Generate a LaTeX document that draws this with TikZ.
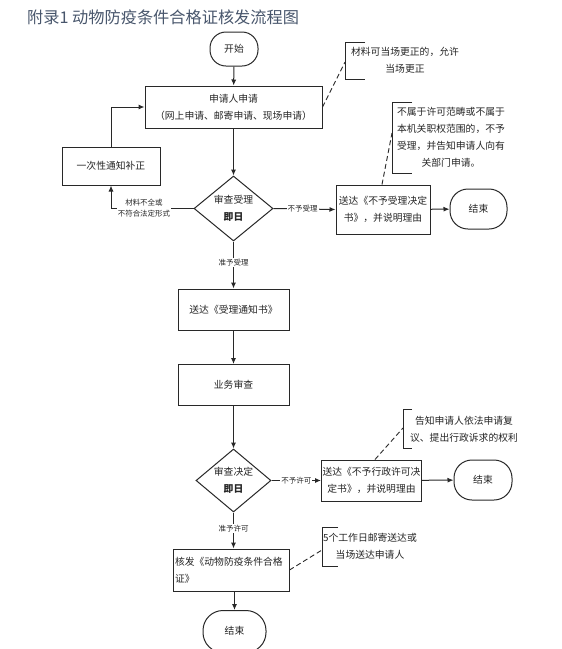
\documentclass[tikz,border=0pt]{standalone}
\usepackage{fontspec}
\setmainfont{Noto Sans CJK SC}
\usetikzlibrary{arrows.meta,shapes.geometric}
\definecolor{titlecol}{RGB}{72,86,108}
\definecolor{linecol}{RGB}{40,40,40}
\begin{document}
\begin{tikzpicture}[x=1pt,y=-1pt,
  txt/.style={font=\fontsize{9.8}{17}\selectfont, align=center, text=black!85},
  boxnode/.style={txt, draw=linecol, line width=1pt, inner sep=1pt},
  term/.style={boxnode, rounded corners=16pt},
  decide/.style={draw=linecol, line width=1pt, diamond, inner sep=0pt},
  arr/.style={draw=linecol, line width=1pt, -{Latex[length=6pt,width=5pt]}},
  conn/.style={draw=linecol, line width=1pt},
  lbl/.style={font=\fontsize{7.5}{11}\selectfont, fill=white, inner sep=1pt, align=center, text=black!85},
  dashlink/.style={draw=linecol, line width=0.9pt, dash pattern=on 5pt off 3pt},
  brk/.style={draw=linecol, line width=1pt},
  notetext/.style={txt}
]
\useasboundingbox (0,0) rectangle (562,649);
\fill[white] (0,0) rectangle (562,649);

% title
\node[anchor=west, font=\fontsize{16.2}{19}\selectfont, text=titlecol, inner sep=0pt] (title) at (27,17) {附录1 动物防疫条件合格证核发流程图};

% main nodes
\node[term, minimum width=48, minimum height=34] (start) at (234,49) {开始};
\node[boxnode, minimum width=177, minimum height=42] (apply) at (233.5,107) {申请人申请\\（网上申请、邮寄申请、现场申请）};
\node[boxnode, minimum width=98, minimum height=38] (fix) at (111,166) {一次性通知补正};
\node[decide, minimum width=79, minimum height=65, aspect=1.2,
      label={[txt]center:审查受理\\{\bfseries 即日}}] (d1) at (233.5,208.5) {};
\node[boxnode, minimum width=94, minimum height=49] (reject1) at (383,209.5) {送达《不予受理决定\\书》，并说明理由};
\node[term, minimum width=57, minimum height=40, rounded corners=18pt] (end1) at (478.5,209) {结束};

\node[boxnode, minimum width=111, minimum height=41] (notice) at (233.5,309.5) {送达《受理通知书》};
\node[boxnode, minimum width=111, minimum height=41] (review) at (233.5,385) {业务审查};
\node[decide, minimum width=75, minimum height=63, aspect=1.2,
      label={[txt]center:审查决定\\{\bfseries 即日}}] (d2) at (233.5,480.5) {};
\node[boxnode, minimum width=99, minimum height=41] (reject2) at (371.5,480.5) {送达《不予行政许可决\\定书》，并说明理由};
\node[term, minimum width=58, minimum height=40, rounded corners=18pt] (end2) at (483,480) {结束};

\node[boxnode, minimum width=116, minimum height=42, text width=112, align=left] (issue) at (231,570) {核发《动物防疫条件合格\\证》};
\node[term, minimum width=63, minimum height=42, rounded corners=20pt, anchor=north] (end3) at (234.5,610) {};
\node[txt] (end3t) at (234.5,631) {结束};

% notes
\node[notetext] (note1) at (405,60.5) {材料可当场更正的，允许\\当场更正};
\draw[brk] (365,42) -- (345,42) -- (345,79) -- (365,79);
\coordinate (n1) at (345,62);

\node[notetext] (note2) at (451,137) {不属于许可范畴或不属于\\本机关职权范围的，不予\\受理，并告知申请人向有\\关部门申请。};
\draw[brk] (412,102) -- (392,102) -- (392,173) -- (412,173);
\coordinate (n2) at (392,133);

\node[notetext] (note3) at (464,429) {告知申请人依法申请复\\议、提出行政诉求的权利};
\draw[brk] (412,409) -- (403,409) -- (403,448) -- (412,448);
\coordinate (n3) at (403,428);

\node[notetext] (note4) at (370,546.5) {5个工作日邮寄送达或\\当场送达申请人};
\draw[brk] (338,527) -- (322,527) -- (322,566) -- (338,566);
\coordinate (n4) at (322,550);

% connectors
\draw[arr] (start) -- (apply);
\draw[arr] (apply) -- (d1);
\draw[arr] (fix.north) |- (apply.west);
\draw[arr] (d1.west) -| node[lbl, pos=0.3] (l1) {材料不全或\\不符合法定形式} (fix.south);
\draw[arr] (d1.east) -- node[lbl, pos=0.47] (l2) {不予受理} (reject1.west);
\draw[arr] (reject1) -- (end1);
\draw[arr] (d1.south) -- node[lbl, pos=0.45] (l3) {准予受理} (notice.north);
\draw[arr] (notice) -- (review);
\draw[arr] (review) -- (d2);
\draw[arr] (d2.east) -- node[lbl, pos=0.5] (l4) {不予许可} (reject2.west);
\draw[arr] (reject2) -- (end2);
\draw[arr] (d2.south) -- node[lbl, pos=0.45] (l5) {准予许可} (d2.south |- issue.north);
\draw[arr] (end3.north |- issue.south) -- (end3.north);

% dashed note links
\draw[dashlink] (apply.east) -- (n1);
\draw[dashlink] (reject1.north -| 382,0) -- (n2);
\draw[dashlink] (reject2.north -| 375,0) -- (n3);
\draw[dashlink] (issue.east) -- (n4);
\end{tikzpicture}
\end{document}
